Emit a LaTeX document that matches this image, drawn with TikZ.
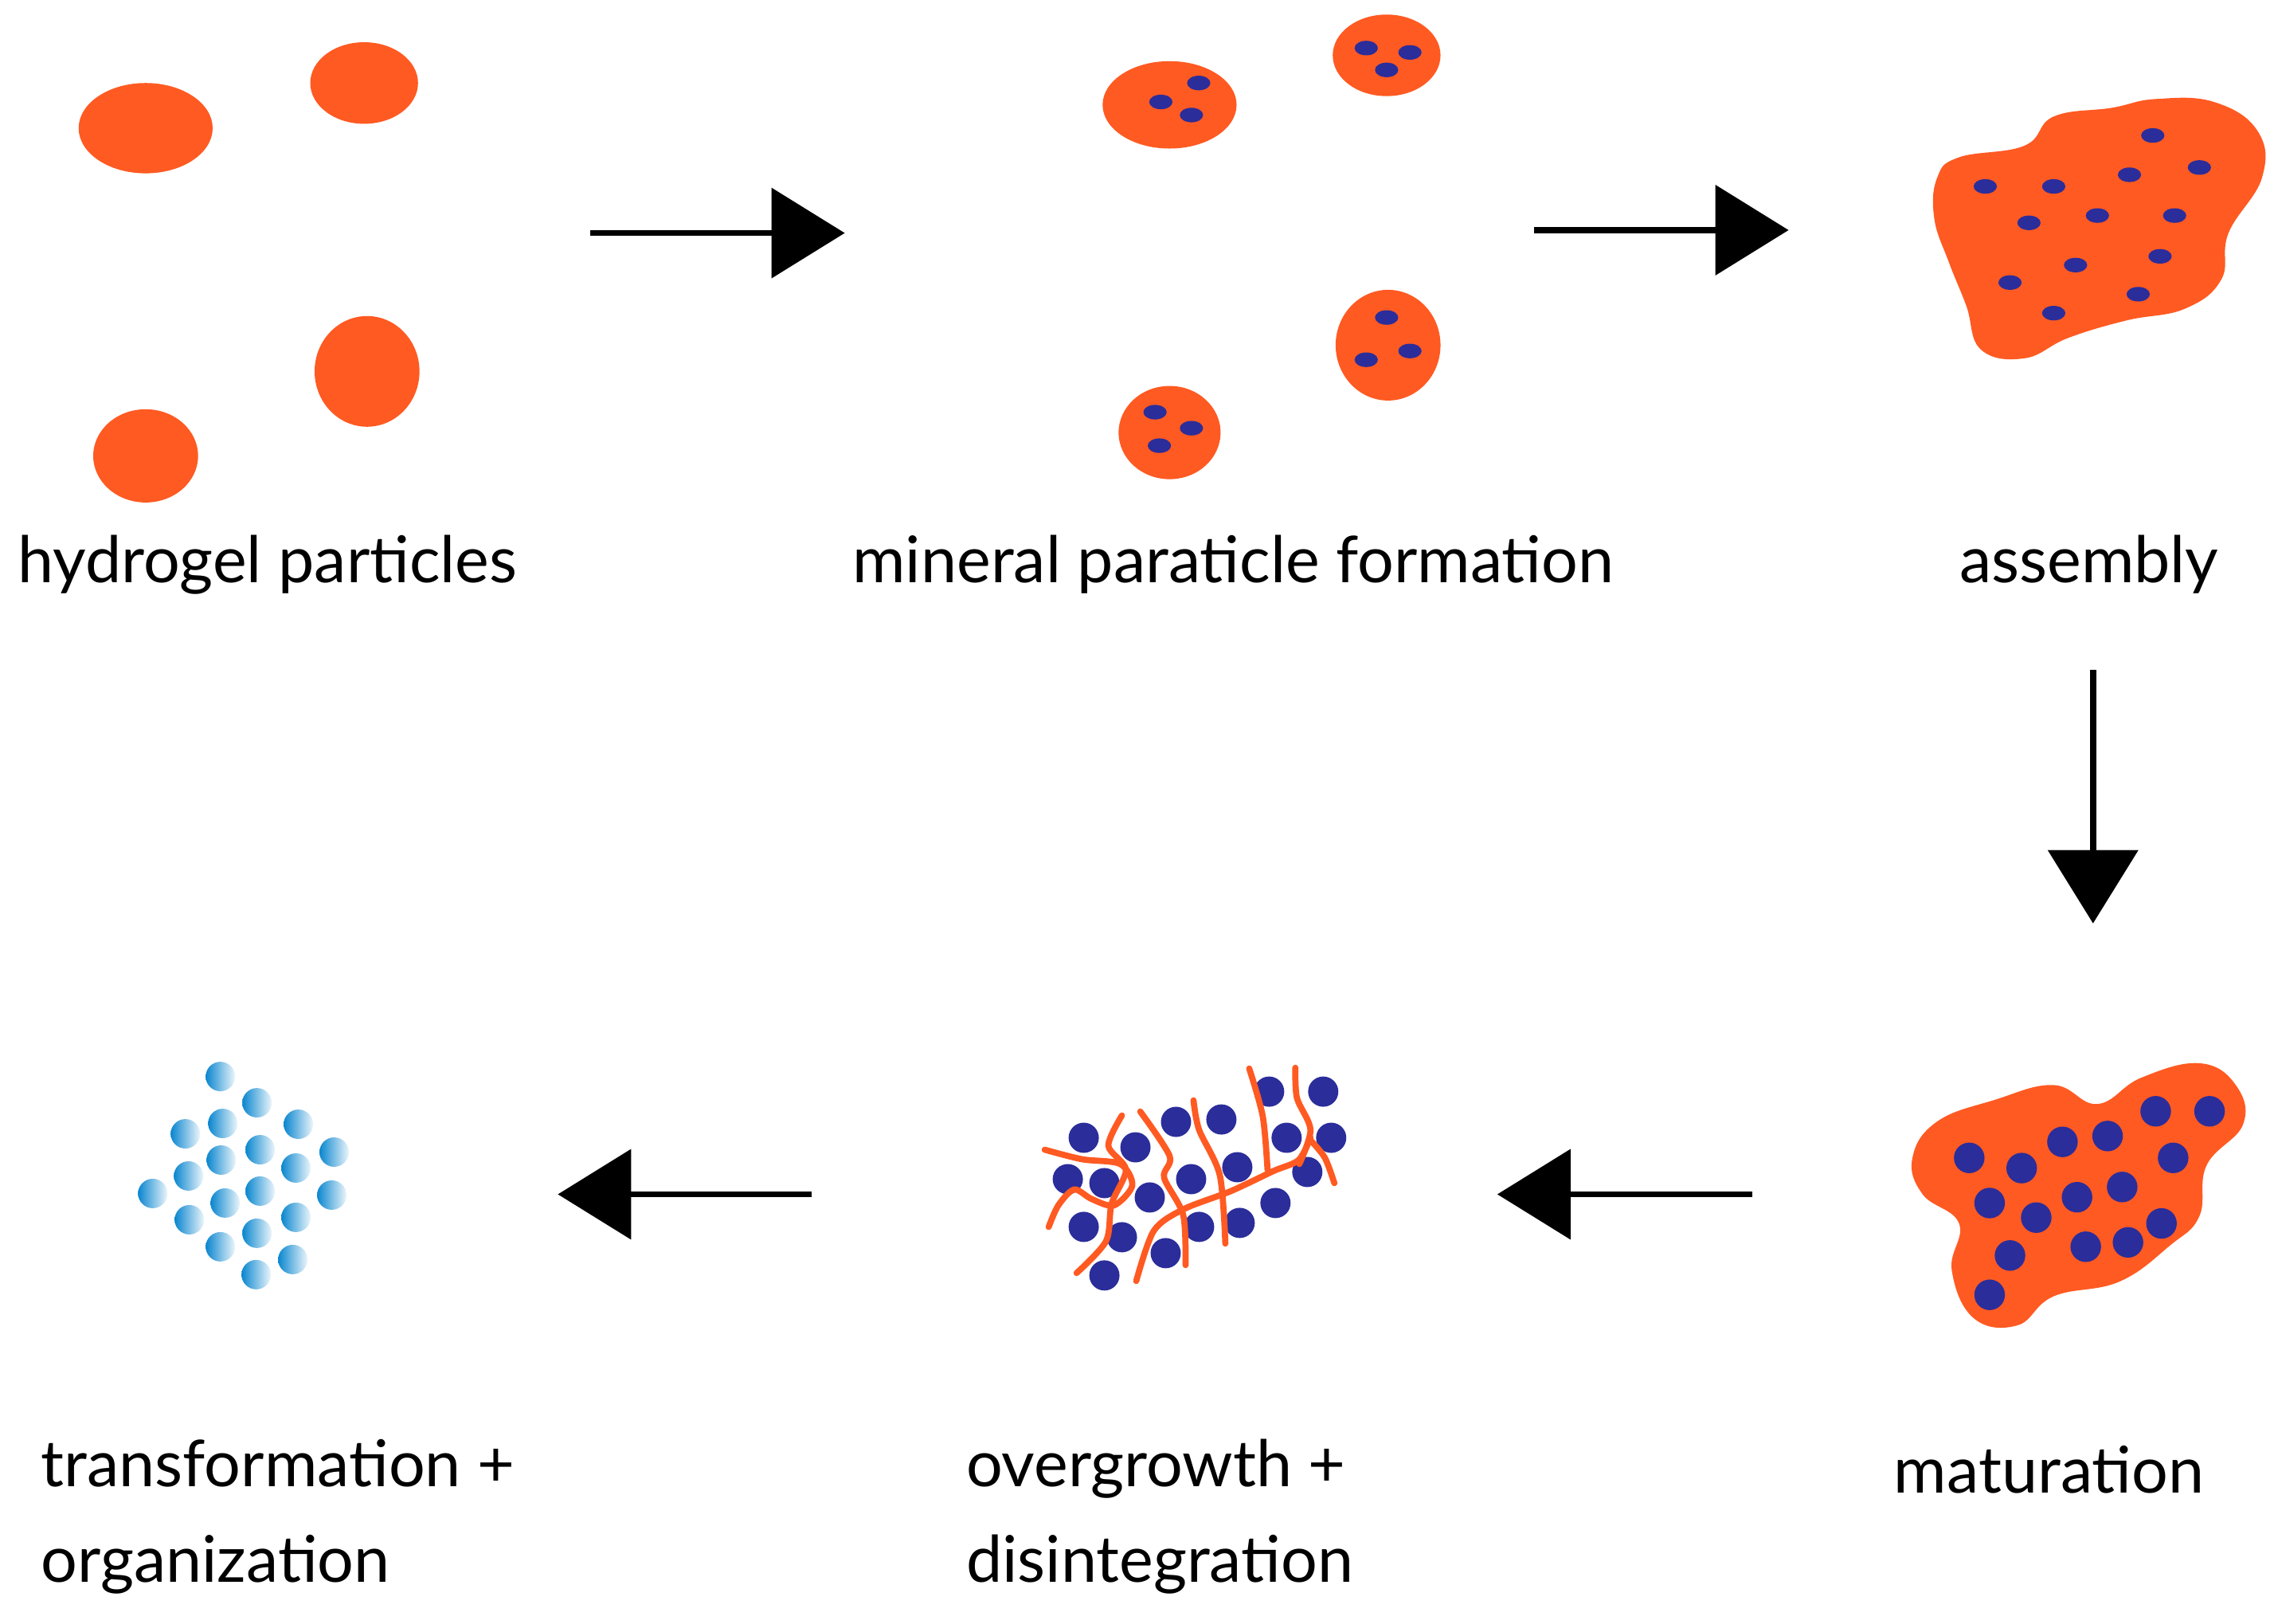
\documentclass[tikz,border=0pt]{standalone}
\usepackage{fontspec}
\setmainfont{Lato}
\usetikzlibrary{arrows.meta}
\definecolor{gel}{HTML}{FF5A22}
\definecolor{mineral}{HTML}{2B2D9A}
\definecolor{crystal}{HTML}{0A86CF}
\tikzset{
  blob/.style={fill=gel, draw=none},
  dot/.style={fill=mineral, draw=none},
  fibre/.style={draw=gel, line width=2.2pt, line cap=round},
  steparrow/.style={line width=2.2pt, -{Triangle[length=0.92cm,width=1.12cm]}},
  label/.style={font=\fontsize{23}{34}\selectfont, inner sep=0pt, align=left}
}
\begin{document}
\begin{tikzpicture}[x=0.01829cm, y=-0.01829cm]
  \useasboundingbox (0,0) rectangle (1564,1115);

  % hydrogel particles
  \fill[blob] (100,88) ellipse (46 and 31);
  \fill[blob] (250,57) ellipse (37 and 28);
  \fill[blob] (252,255) ellipse (36 and 38);
  \fill[blob] (100,313) ellipse (36 and 32);
  \node[label, anchor=base west] (hydrogel) at (12,400) {hydrogel particles};

  % mineral particle formation
  \fill[blob] (803,72) ellipse (46 and 30);
  \fill[blob] (952,38) ellipse (37 and 28);
  \fill[blob] (953,237) ellipse (36 and 38);
  \fill[blob] (803,297) ellipse (35 and 32);
  \foreach \x/\y in {797/70,823/57,818/79, 938/33,968/36,952/48,
                     952/218,938/247,968/241, 793/283,818/294,796/306}
    \fill[dot] (\x,\y) ellipse (8 and 5);
  \node[label, anchor=base west] (mineral) at (585,400) {mineral paraticle formation};

  % assembly
  \fill[blob] plot[smooth cycle, tension=0.7] coordinates {(1345,108) (1390,100) (1410,80)
    (1450,74) (1480,68) (1520,70) (1550,90) (1553,122) (1530,160) (1525,192) (1500,212)
    (1460,220) (1420,232) (1390,246) (1360,240) (1350,210) (1338,180) (1328,150) (1330,122)};
  \foreach \x/\y in {1363/128,1410/128,1462/120,1478/93,1510/115,1393/153,1440/148,
                     1493/148,1425/182,1483/176,1380/194,1468/202,1410/215}
    \fill[dot] (\x,\y) ellipse (8 and 5);
  \node[label, anchor=base west] (assembly) at (1345,400) {assembly};

  % maturation
  \fill[blob] plot[smooth cycle, tension=0.7] coordinates {(1330,770) (1370,755) (1410,745)
    (1440,758) (1470,740) (1510,730) (1535,745) (1540,772) (1515,800) (1510,835) (1490,855)
    (1455,880) (1410,890) (1385,910) (1355,905) (1340,872) (1345,840) (1320,820) (1313,795)};
  \foreach \x/\y in {1352/795,1388/802,1416/784,1447/780,1480/763,1517/763,1492/795,
                     1366/826,1398/836,1426/822,1457/815,1380/862,1432/856,1461/853,
                     1484/840,1366/889}
    \fill[dot] (\x,\y) circle (10.5);
  \node[label, anchor=base west] (maturation) at (1300,1025) {maturation};

  % overgrowth + disintegration (real px / 1.829 offsets)
  \begin{scope}[x=0.01cm, y=-0.01cm, shift={(0,0)}]
    \foreach \x/\y in {1595/1372,1663/1372,1617/1430,1673/1430,1643/1473,1603/1512,
                       1558/1537,1507/1542,1465/1575,1388/1603,1410/1555,1362/1542,
                       1342/1482,1388/1487,1445/1505,1497/1482,1555/1467,1427/1442,
                       1362/1430,1478/1410,1535/1407}
      \fill[dot] (\x,\y) circle (19);
    \draw[fibre] plot[smooth] coordinates {(1313,1445) (1360,1457) (1408,1463) (1423,1490)
      (1400,1515) (1372,1507) (1350,1495) (1330,1515) (1318,1542)};
    \draw[fibre] plot[smooth] coordinates {(1410,1402) (1393,1440) (1415,1470) (1397,1513)
      (1390,1560) (1353,1600)};
    \draw[fibre] plot[smooth] coordinates {(1433,1397) (1470,1453) (1463,1480) (1487,1527)
      (1490,1590)};
    \draw[fibre] plot[smooth] coordinates {(1500,1383) (1507,1420) (1533,1477) (1540,1563)};
    \draw[fibre] plot[smooth] coordinates {(1570,1343) (1587,1403) (1593,1470)};
    \draw[fibre] plot[smooth] coordinates {(1628,1342) (1630,1380) (1647,1420) (1633,1463)};
    \draw[fibre] plot[smooth] coordinates {(1428,1610) (1450,1547) (1487,1520) (1547,1497)
      (1600,1472) (1632,1458) (1647,1430)};
    \draw[fibre] plot[smooth] coordinates {(1647,1433) (1665,1455) (1677,1487)};
  \end{scope}
  \node[label, anchor=north west] (overgrowth) at (663,988) {overgrowth +\\disintegration};

  % transformation + organization
  \begin{scope}[x=0.01cm, y=-0.01cm]
    \foreach \x/\y in {277/1353,323/1386,375/1413,420/1448,233/1425,280/1412,327/1445,
                       372/1468,417/1502,237/1478,278/1458,327/1497,372/1530,192/1500,
                       283/1512,323/1550,368/1583,238/1533,277/1567,322/1602}
      \shade[left color=crystal, right color=crystal!8] (\x,\y) circle (18.5);
  \end{scope}
  \node[label, anchor=north west] (transformation) at (28,988) {transformation +\\organization};

  % arrows between the stages
  \coordinate (a1s) at (405,160);  \coordinate (a1e) at (580,160);
  \coordinate (a2s) at (1053,158); \coordinate (a2e) at (1228,158);
  \coordinate (a3s) at (1437,460); \coordinate (a3e) at (1437,634);
  \coordinate (a4s) at (1203,820); \coordinate (a4e) at (1028,820);
  \coordinate (a5s) at (557,820);  \coordinate (a5e) at (383,820);
  \draw[steparrow] (a1s) -- (a1e);
  \draw[steparrow] (a2s) -- (a2e);
  \draw[steparrow] (a3s) -- (a3e);
  \draw[steparrow] (a4s) -- (a4e);
  \draw[steparrow] (a5s) -- (a5e);
\end{tikzpicture}
\end{document}
